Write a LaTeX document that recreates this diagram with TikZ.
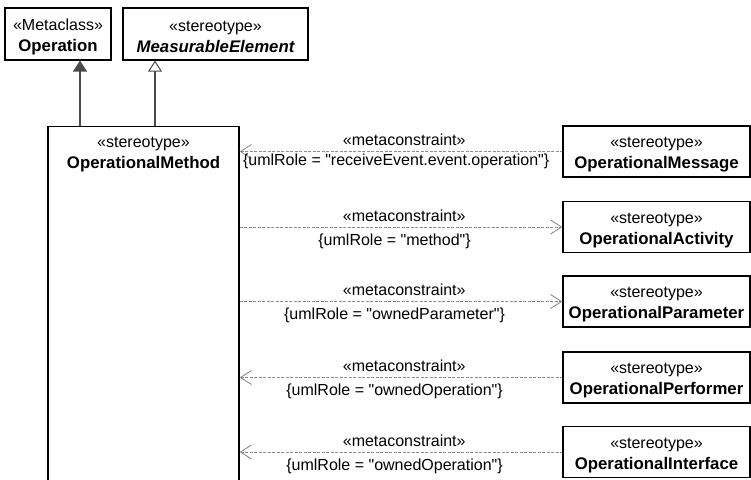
\documentclass[tikz,border=0pt]{standalone}
\usepackage{fontspec}
\setmainfont{Liberation Sans}[Ligatures=TeXOff]
\usetikzlibrary{arrows.meta}
\definecolor{dep}{HTML}{8C8C8C}
\definecolor{gen}{HTML}{4A4A4A}
\newcommand{\bnm}[1]{{\fontsize{16.8}{21}\selectfont\bfseries #1}}
\newcommand{\tstrut}{\rule{0pt}{17pt}}
\tikzset{
  cls/.style={draw=black, line width=1.2pt, fill=white, align=center, inner sep=0pt,
    font=\fontsize{16}{21}\selectfont},
  meta/.style={draw=dep, line width=0.9pt, dash pattern=on 3pt off 1.5pt},
  tipin/.style={{Straight Barb[length=11pt,width=14pt,line width=0.9pt,color=dep]}-},
  tipout/.style={-{Straight Barb[length=11pt,width=14pt,line width=0.9pt,color=dep]}},
  lab/.style={font=\fontsize{16}{19}\selectfont, inner sep=0pt, text=black},
  genline/.style={draw=gen, line width=1.3pt},
  filledtri/.style={-{Triangle[length=11pt,width=14pt,fill=gen,color=gen]}},
  opentri/.style={-{Triangle[open,length=11pt,width=14pt,fill=white,color=gen,line width=1pt]}},
  above lab/.style={lab, pos=0.51, anchor=south, yshift=5pt},
  below lab/.style={lab, pos=0.48, anchor=north, yshift=-6pt}
}
\begin{document}
\begin{tikzpicture}[x=1pt,y=-1pt]
\useasboundingbox (0,0) rectangle (751,479);
\clip (0,0) rectangle (751,479);

% top classes
\node[cls, minimum width=106pt, minimum height=52pt] (op) at (58,34)
  {\tstrut«Metaclass»\\\bnm{Operation}};
\node[cls, minimum width=185pt, minimum height=52pt] (me) at (215.5,34)
  {\tstrut«stereotype»\\\bnm{\itshape MeasurableElement}};

% main stereotype (extends below the picture)
\node[cls, minimum width=191pt, minimum height=380pt, anchor=north] (om) at (143.5,126) {};
\node[lab, anchor=north, align=center, font=\fontsize{16}{21}\selectfont] (omt)
  at ([yshift=-11pt]om.north) {«stereotype»\\\bnm{OperationalMethod}};

% right stereotypes
\node[cls, minimum width=187pt, minimum height=51pt] (msg) at (656.5,151.5)
  {\tstrut«stereotype»\\\bnm{OperationalMessage}};
\node[cls, minimum width=187pt, minimum height=51pt] (act) at (656.5,227)
  {\tstrut«stereotype»\\\bnm{OperationalActivity}};
\node[cls, minimum width=187pt, minimum height=51pt] (par) at (656.5,301.5)
  {\tstrut«stereotype»\\\bnm{OperationalParameter}};
\node[cls, minimum width=187pt, minimum height=51pt] (prf) at (656.5,377.5)
  {\tstrut«stereotype»\\\bnm{OperationalPerformer}};
\node[cls, minimum width=187pt, minimum height=51pt] (itf) at (656.5,452)
  {\tstrut«stereotype»\\\bnm{OperationalInterface}};

% generalizations
\coordinate (g1) at (80,126);
\coordinate (g2) at (155,126);
\draw[genline, filledtri] (g1) -- (g1 |- op.south);
\draw[genline, opentri] (g2) -- (g2 |- me.south);

% metaconstraints
\draw[meta, tipin] (om.east |- msg.west) --
  node[above lab] {«metaconstraint»}
  node[lab, pos=0, anchor=north west, xshift=3pt, yshift=-2pt] {\{umlRole = "receiveEvent.event.operation"\}}
  (msg.west);
\draw[meta, tipout] (om.east |- act.west) --
  node[above lab] {«metaconstraint»}
  node[below lab] {\{umlRole = "method"\}}
  (act.west);
\draw[meta, tipout] (om.east |- par.west) --
  node[above lab] {«metaconstraint»}
  node[below lab] {\{umlRole = "ownedParameter"\}}
  (par.west);
\draw[meta, tipin] (om.east |- prf.west) --
  node[above lab] {«metaconstraint»}
  node[below lab] {\{umlRole = "ownedOperation"\}}
  (prf.west);
\draw[meta, tipin] (om.east |- itf.west) --
  node[above lab] {«metaconstraint»}
  node[below lab] {\{umlRole = "ownedOperation"\}}
  (itf.west);
\end{tikzpicture}
\end{document}
